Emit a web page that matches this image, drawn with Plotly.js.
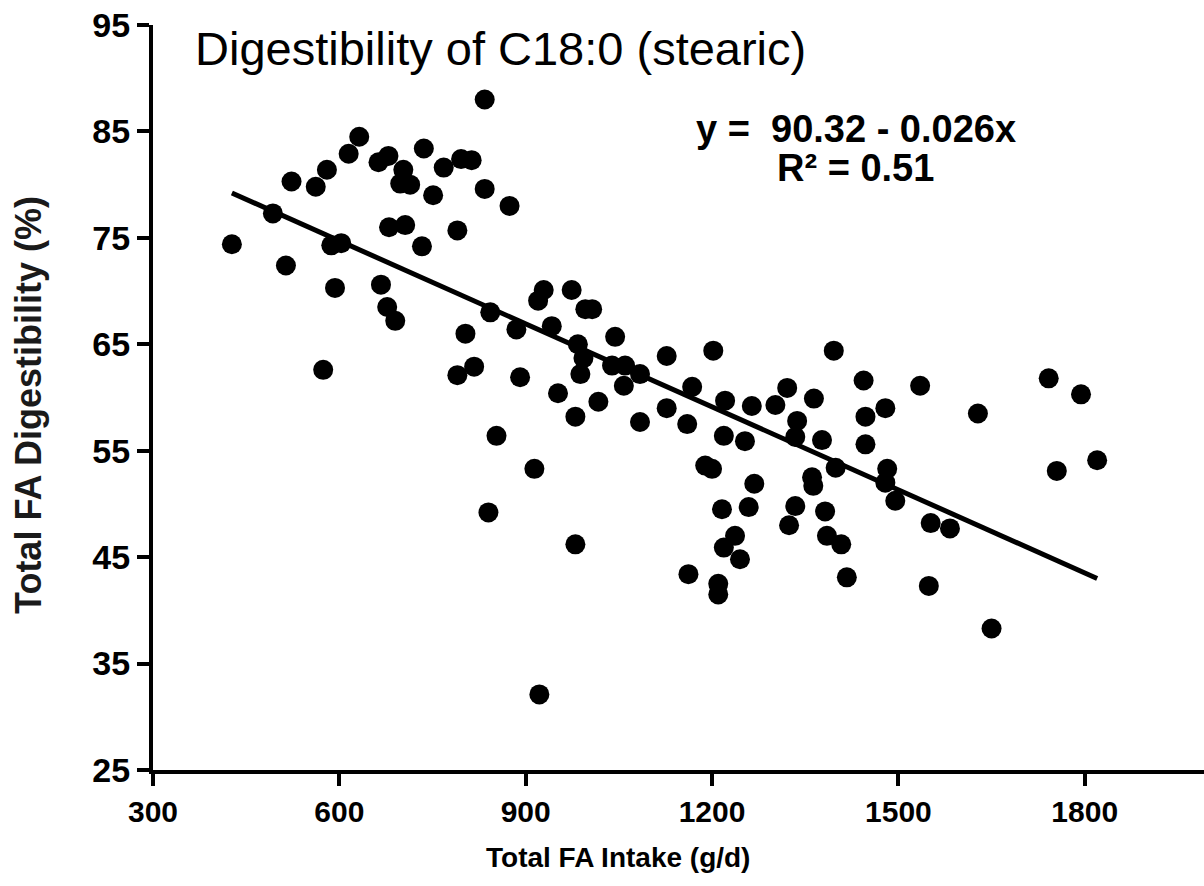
<!DOCTYPE html>
<html>
<head>
<meta charset="utf-8">
<script src="https://cdn.plot.ly/plotly-3.0.1.min.js"></script>
<style>html,body{margin:0;padding:0;background:#fff;}#chart{width:1204px;height:886px;}</style>
</head>
<body>
<div id="chart"></div>
<script>
// Total FA intake (g/d)
const intake = [
  427, 493, 514, 523, 562, 580, 574, 587, 603, 593,
  615, 632, 663, 679, 680, 667, 677, 690, 703, 698,
  714, 706, 733, 736, 751, 768, 796, 813, 790, 803,
  790, 817, 834, 834, 843, 840, 853, 874, 885, 891,
  914, 922, 929, 920, 974, 996, 1007, 942, 1044, 984,
  993, 988, 1039, 1060, 1084, 1058, 952, 1017, 980, 1084,
  1127, 1202, 1168, 1127, 1160, 1221, 1264, 1302, 1321, 1364,
  1337, 1334, 1219, 1253, 1189, 1200, 1268, 1216, 1259, 1334,
  1324, 1237, 1219, 1245, 1162, 1210, 1210, 980, 1396, 1444,
  1535, 1742, 1794, 1628, 1447, 1479, 1377, 1447, 1399, 1361,
  1363, 1482, 1479, 1495, 1382, 1385, 1408, 1417, 1552, 1583,
  1549, 1650, 1755, 1820
];
// Total FA digestibility (%)
const digestibility = [
  74.4, 77.3, 72.4, 80.3, 79.8, 81.4, 62.6, 74.3, 74.5, 70.3,
  82.9, 84.5, 82.1, 82.7, 76.0, 70.6, 68.5, 67.2, 81.4, 80.1,
  80.0, 76.2, 74.2, 83.4, 79.0, 81.6, 82.4, 82.3, 75.7, 66.0,
  62.1, 62.9, 88.0, 79.6, 68.0, 49.2, 56.4, 78.0, 66.4, 61.9,
  53.3, 32.1, 70.1, 69.1, 70.1, 68.3, 68.3, 66.7, 65.7, 65.0,
  63.7, 62.2, 63.0, 63.0, 62.2, 61.1, 60.4, 59.6, 58.2, 57.7,
  63.9, 64.4, 61.0, 59.0, 57.5, 59.7, 59.2, 59.3, 60.9, 59.9,
  57.8, 56.3, 56.4, 55.9, 53.6, 53.3, 51.9, 49.5, 49.7, 49.8,
  48.0, 47.0, 45.9, 44.8, 43.4, 42.5, 41.5, 46.2, 64.4, 61.6,
  61.1, 61.8, 60.3, 58.5, 58.2, 59.0, 56.0, 55.6, 53.4, 52.5,
  51.7, 53.3, 52.0, 50.3, 49.3, 47.0, 46.2, 43.1, 48.2, 47.7,
  42.3, 38.3, 53.1, 54.1
];
// Regression: y = 90.32 - 0.026x
const intercept = 90.32;
const slope = -0.026;
const xTicks = [300, 600, 900, 1200, 1500, 1800];
const yTicks = [25, 35, 45, 55, 65, 75, 85, 95];
const chartTitle = "Digestibility of C18:0 (stearic)";
const eqLine1 = "y = \u00a090.32 - 0.026x";
const eqLine2 = "R\u00b2 = 0.51";
const xTitle = "Total FA Intake (g/d)";
const yTitle = "Total FA Digestibility (%)";

const xMin = Math.min(...intake), xMax = Math.max(...intake);
const fitX = [xMin, xMax];
const fitY = fitX.map(v => intercept + slope * v);

const FONT = "Liberation Sans, Arial, sans-serif";

const traces = [
  {
    x: intake, y: digestibility, type: "scatter", mode: "markers",
    marker: {color: "#000", size: 20, line: {width: 0}},
    hoverinfo: "x+y", showlegend: false
  },
  {
    x: fitX, y: fitY, type: "scatter", mode: "lines",
    line: {color: "#000", width: 5},
    hoverinfo: "skip", showlegend: false
  }
];

const layout = {
  width: 1204, height: 886,
  margin: {l: 153, r: 0, t: 25, b: 116},
  paper_bgcolor: "#fff", plot_bgcolor: "#fff",
  showlegend: false,
  xaxis: {
    range: [300, 1992], tickvals: xTicks, ticktext: xTicks.map(String),
    showgrid: false, zeroline: false,
    showline: true, linecolor: "#000", linewidth: 4,
    ticks: "outside", ticklen: 12, tickwidth: 4, tickcolor: "#000",
    tickfont: {family: FONT, size: 30, color: "#000", weight: "bold"},
    fixedrange: true
  },
  yaxis: {
    range: [25, 95], tickvals: yTicks, ticktext: yTicks.map(String),
    showgrid: false, zeroline: false,
    showline: true, linecolor: "#000", linewidth: 4,
    ticks: "outside", ticklen: 12, tickwidth: 4, tickcolor: "#000",
    tickfont: {family: FONT, size: 34, color: "#000", weight: "bold"},
    fixedrange: true
  },
  annotations: [
    {text: chartTitle, xref: "paper", yref: "paper", x: 0.038, y: 0.968,
     xanchor: "left", yanchor: "middle", showarrow: false,
     font: {family: FONT, size: 47, color: "#000"}},
    {text: eqLine1, xref: "paper", yref: "paper", x: 0.669, y: 0.861,
     xanchor: "center", yanchor: "middle", showarrow: false,
     font: {family: FONT, size: 38, color: "#000", weight: "bold"}},
    {text: eqLine2, xref: "paper", yref: "paper", x: 0.668, y: 0.8074,
     xanchor: "center", yanchor: "middle", showarrow: false,
     font: {family: FONT, size: 38, color: "#000", weight: "bold"}},
    {text: xTitle, xref: "paper", yref: "paper", x: 0.4424, y: -0.1168,
     xanchor: "center", yanchor: "middle", showarrow: false,
     font: {family: FONT, size: 28, color: "#000", weight: "bold"}},
    {text: yTitle, xref: "paper", yref: "paper", x: -0.118, y: 0.49,
     xanchor: "center", yanchor: "middle", showarrow: false, textangle: -90,
     font: {family: FONT, size: 36, color: "#1a1a1a", weight: "bold"}}
  ]
};

Plotly.newPlot("chart", traces, layout, {displayModeBar: false, staticPlot: true});
</script>
</body>
</html>
